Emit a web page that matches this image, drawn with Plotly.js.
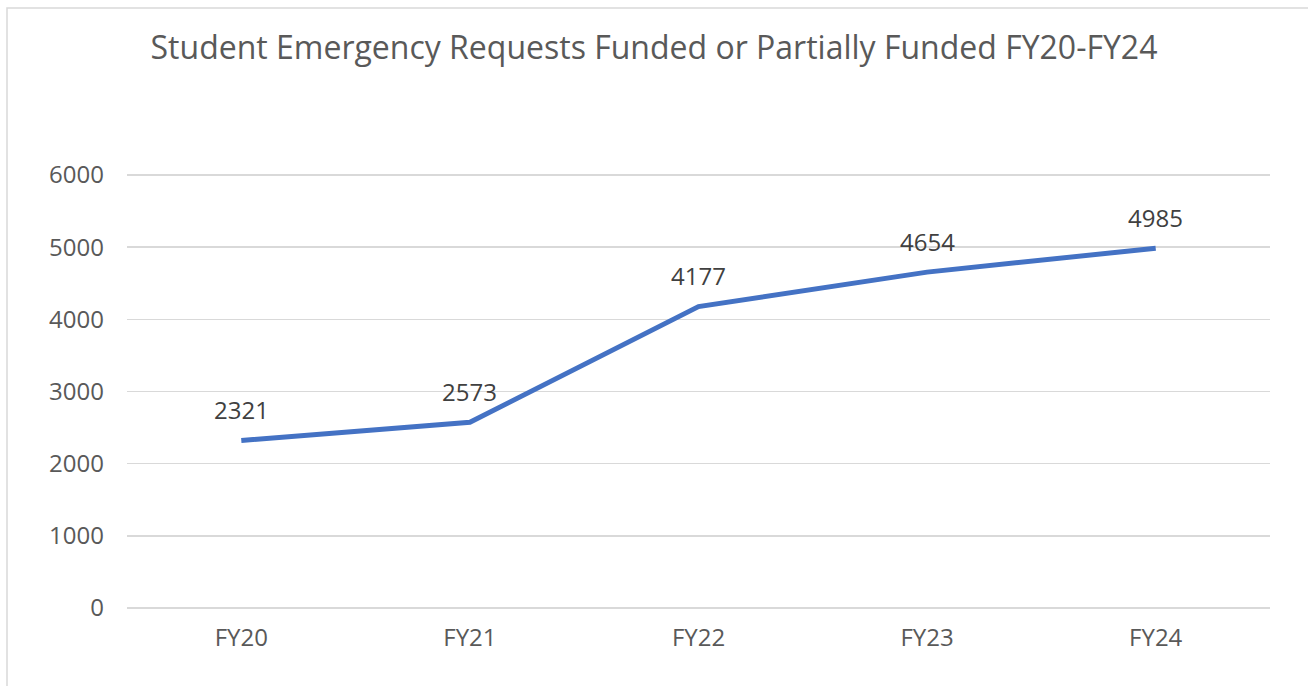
<!DOCTYPE html>
<html>
<head>
<meta charset="utf-8">
<script src="https://cdn.plot.ly/plotly-3.0.1.min.js"></script>
<style>
  html, body { margin: 0; padding: 0; background: #ffffff; }
  #chart { width: 1308px; height: 686px; }
</style>
</head>
<body>
<div id="chart"></div>
<script>
const categories = ["FY20", "FY21", "FY22", "FY23", "FY24"];
const requestsFunded = [2321, 2573, 4177, 4654, 4985];
const yTickValues = [0, 1000, 2000, 3000, 4000, 5000, 6000];
const chartTitle = "Student Emergency Requests Funded or Partially Funded FY20-FY24";

const FONT = "Open Sans, Liberation Sans, Arial, sans-serif";

const trace = {
  x: categories,
  y: requestsFunded,
  type: "scatter",
  mode: "lines",
  line: { color: "#4472C4", width: 5 },
  cliponaxis: false,
  hoverinfo: "x+y"
};

const labelAnnotations = categories.map((c, i) => ({
  x: c,
  y: requestsFunded[i],
  xref: "x", yref: "y",
  text: String(requestsFunded[i]),
  showarrow: false,
  xanchor: "center", yanchor: "middle",
  yshift: 31,
  font: { family: FONT, size: 24, color: "#404040" }
}));

const layout = {
  width: 1308,
  height: 686,
  margin: { l: 127, r: 38, t: 171, b: 78 },
  paper_bgcolor: "#ffffff",
  plot_bgcolor: "#ffffff",
  showlegend: false,
  title: {
    text: chartTitle,
    font: { family: FONT, size: 32, color: "#595959" },
    x: 0.5, xanchor: "center",
    y: 1 - 48 / 686, yanchor: "middle", yref: "container"
  },
  xaxis: {
    type: "category",
    range: [-0.5, 4.5],
    showgrid: false,
    zeroline: false,
    showline: false,
    ticks: "",
    tickfont: { family: FONT, size: 24, color: "#595959" },
    ticklabelstandoff: 13,
    fixedrange: true
  },
  yaxis: {
    range: [0, 6055],
    tickvals: yTickValues,
    ticktext: yTickValues.map(String),
    showgrid: true,
    gridcolor: "#d9d9d9",
    gridwidth: 1.5,
    zeroline: true,
    zerolinecolor: "#d9d9d9",
    zerolinewidth: 1.5,
    showline: false,
    ticks: "",
    tickfont: { family: FONT, size: 24, color: "#595959" },
    ticklabelstandoff: 22,
    fixedrange: true
  },
  annotations: labelAnnotations,
  shapes: [{
    type: "rect",
    xref: "paper", yref: "paper",
    x0: (7 - 127) / 1143, x1: 1.3,
    y0: -0.5, y1: (608 - 8) / 437,
    line: { color: "#d9d9d9", width: 1.5 },
    fillcolor: "rgba(0,0,0,0)",
    layer: "below"
  }]
};

Plotly.newPlot("chart", [trace], layout, { displayModeBar: false, staticPlot: true });
</script>
</body>
</html>
